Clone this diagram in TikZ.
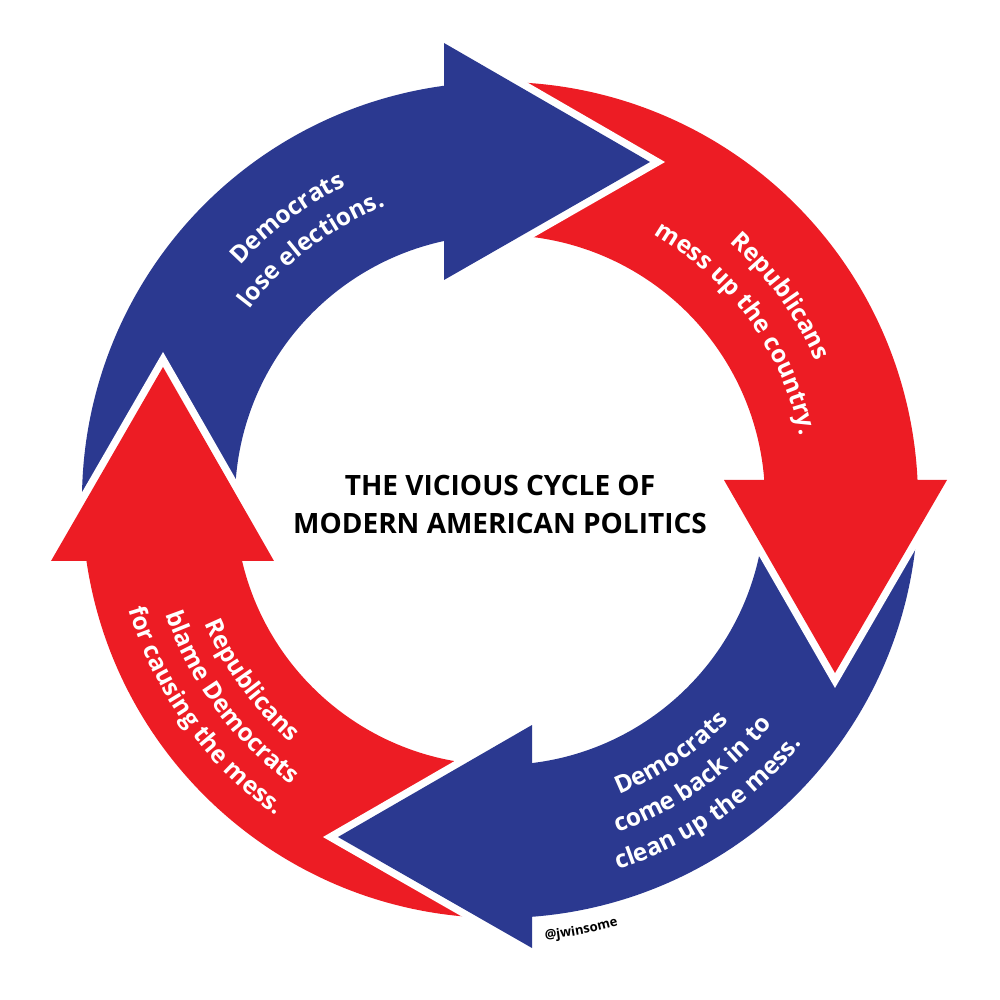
\documentclass[tikz,border=0pt]{standalone}
\usepackage{fontspec}
\setmainfont{Open Sans}
\usetikzlibrary{decorations.text}
\definecolor{DemBlue}{HTML}{2B3990}
\definecolor{RepRed} {HTML}{ED1C24}
\newcommand{\lblfont}{\fontsize{12.2}{14}\selectfont\bfseries}
\newcommand{\tagfont}{\fontsize{6.5}{8}\selectfont\bfseries}
\tikzset{
  head/.style={fill=#1, preaction={draw=white, line width=7.5pt, line join=miter}},
  lbl/.style={decorate, decoration={text along path, text align=center,
              text color=white, text={|\lblfont|#1}}},
  tag/.style={decorate, decoration={text along path, text align=center,
              text color=black, text={|\tagfont|#1}}}
}
\begin{document}
\begin{tikzpicture}[x=0.5pt, y=0.5pt]
  \useasboundingbox (-500,-500) rectangle (500,500);
  % ring sections, tails run in under the heads
  \foreach \a/\b/\c in {187/96/DemBlue, 96/0/RepRed, 0/-88/DemBlue, -88/-173/RepRed}
    \fill[\c] (\a:418) arc[start angle=\a, end angle=\b, radius=418]
      -- (\b:265) arc[start angle=\b, end angle=\a, radius=265] -- cycle;
  % arrow heads with white edge
  \path[head=DemBlue] (-56,457) -- (150,338) -- (-56,220);
  \path[head=RepRed]  (447,20) -- (335,-173) -- (224,20);
  \path[head=DemBlue] (32,-448) -- (-162,-337) -- (32,-225);
  \path[head=RepRed]  (-449,-61) -- (-337,133) -- (-226,-61);
  % title
  \node[font=\fontsize{14}{19}\selectfont\bfseries, align=center] (title) at (0,-4)
    {THE VICIOUS CYCLE OF\\MODERN AMERICAN POLITICS};
  % labels along the ring
  \path[lbl={Democrats}]      (177:350) arc[start angle=177, end angle=77, radius=350];
  \path[lbl={lose elections.}] (187:315) arc[start angle=187, end angle=67, radius=315];
  \path[lbl={Republicans}]    (86:345) arc[start angle=86, end angle=-14, radius=345];
  \path[lbl={mess up the country.}] (96:307) arc[start angle=96, end angle=-24, radius=307];
  \path[lbl={Democrats}]      (-106:318) arc[start angle=-106, end angle=-6, radius=318];
  \path[lbl={come back in to}] (-110:353) arc[start angle=-110, end angle=0, radius=353];
  \path[lbl={clean up the mess.}] (-115.6:388) arc[start angle=-115.6, end angle=4.4, radius=388];
  \path[lbl={Republicans}]    (-194:320) arc[start angle=-194, end angle=-94, radius=320];
  \path[lbl={blame Democrats}] (-203.7:353) arc[start angle=-203.7, end angle=-83.7, radius=353];
  \path[lbl={for causing the mess.}] (-204.5:387) arc[start angle=-204.5, end angle=-84.5, radius=387];
  \path[tag={@jwinsome}]      (-109.3:442) arc[start angle=-109.3, end angle=-49.3, radius=442];
\end{tikzpicture}
\end{document}
